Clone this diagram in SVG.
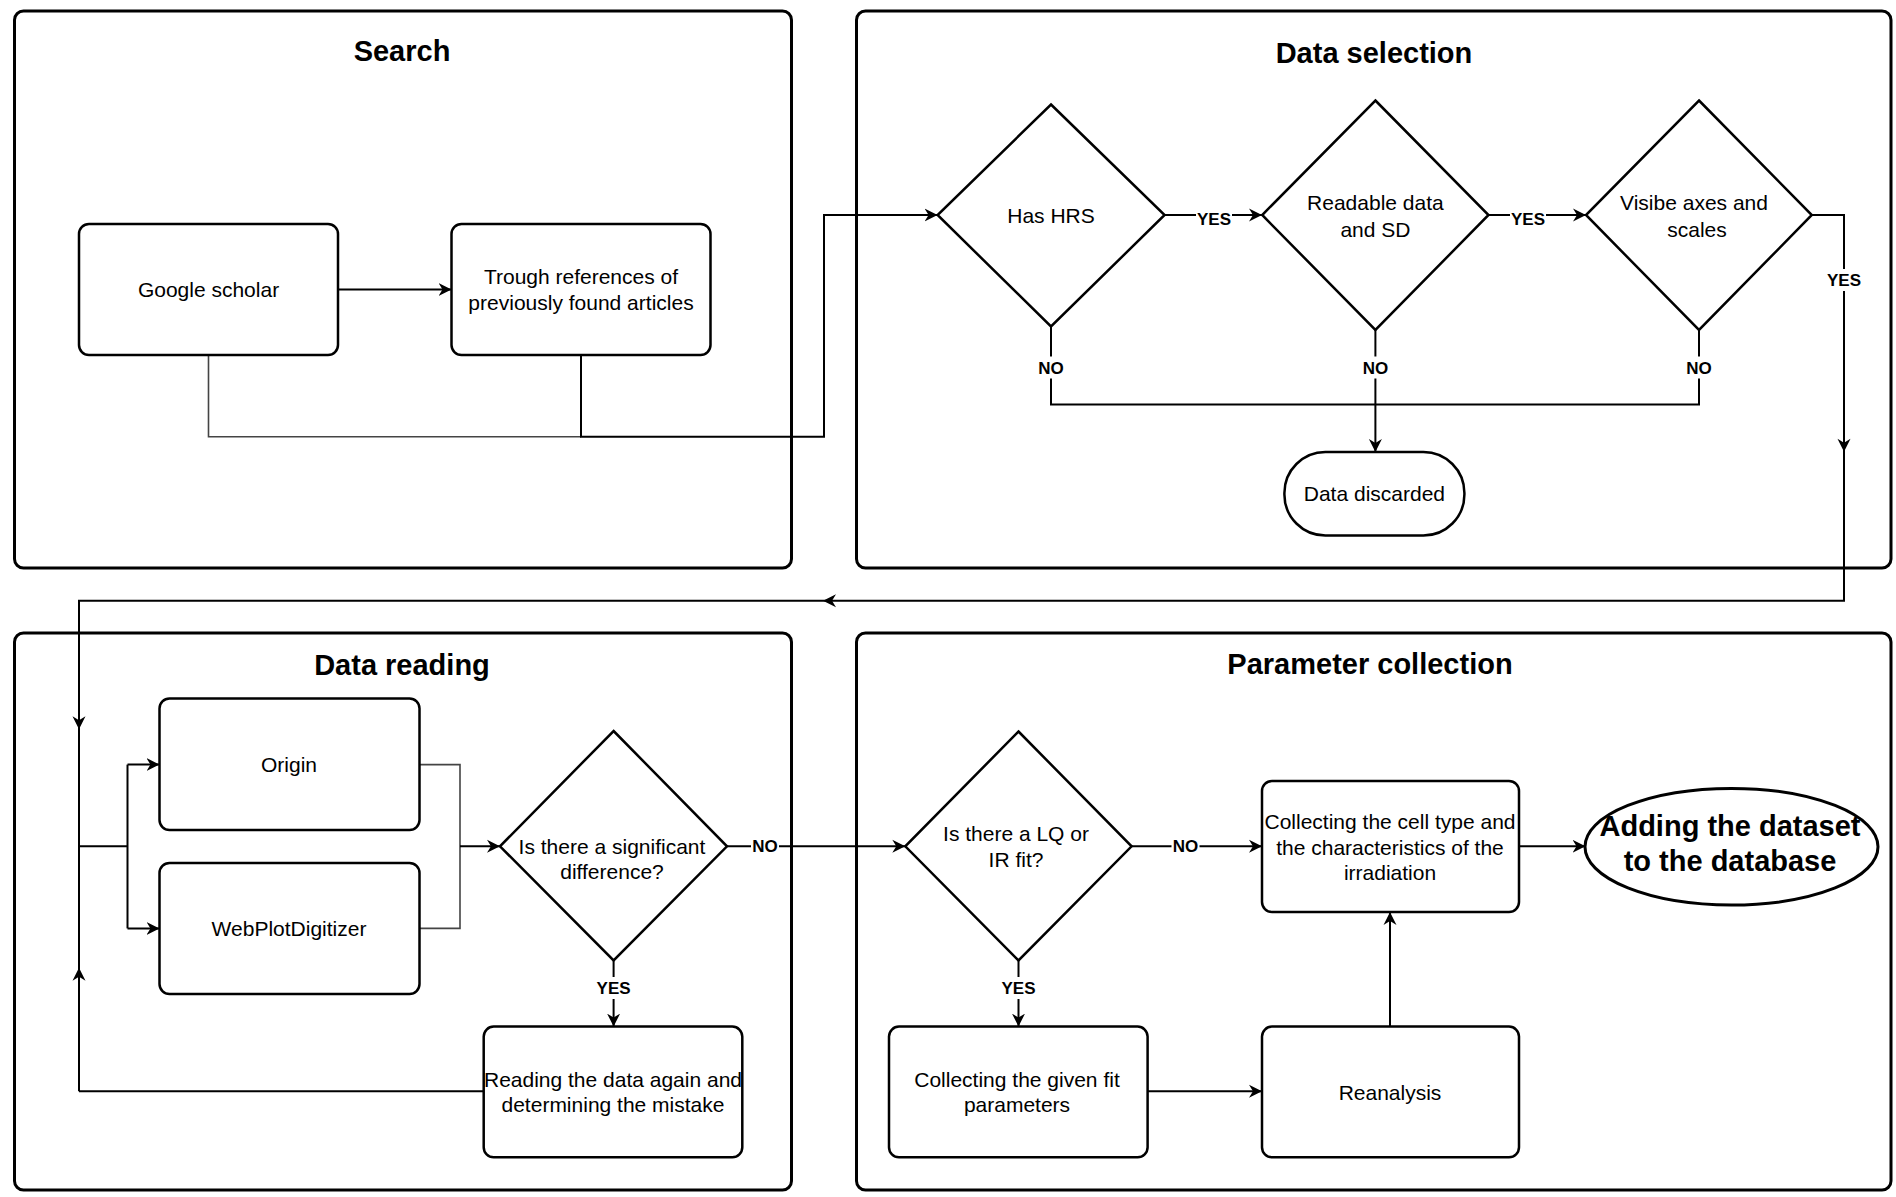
<svg xmlns="http://www.w3.org/2000/svg" xmlns:xlink="http://www.w3.org/1999/xlink" width="1896" height="1197" viewBox="0 0 1896 1197">
<style>
.panel{fill:#fff;stroke:#000;stroke-width:3}
.node{fill:#fff;stroke:#000;stroke-width:2.5}
.t{font-family:"Liberation Sans",Arial,sans-serif;font-size:21px;fill:#000;text-anchor:middle}
.title{font-family:"Liberation Sans",Arial,sans-serif;font-size:29px;font-weight:bold;fill:#000;text-anchor:middle}
.big{font-family:"Liberation Sans",Arial,sans-serif;font-size:29px;font-weight:bold;fill:#000;text-anchor:middle}
.lbl{font-family:"Liberation Sans",Arial,sans-serif;font-size:17px;font-weight:bold;fill:#000;text-anchor:middle}
.lblbg{fill:#fff;stroke:none}
.c{fill:none;stroke:#000;stroke-width:2}
.cg{fill:none;stroke:#444;stroke-width:1.6}
.ah{fill:#000;stroke:none}
</style>
<defs>
<marker id="arr" markerUnits="userSpaceOnUse" markerWidth="14" markerHeight="14" viewBox="0 0 14 14" refX="13" refY="7" orient="auto">
<path d="M0,0.5 L13,7 L0,13.5 L4,7 Z" fill="#000"/>
</marker>
<path id="ahead" d="M0,0 L-13,-6.5 L-9,0 L-13,6.5 Z"/>
</defs>
<rect width="1896" height="1197" fill="#fff"/>

<g id="panel-search">
<rect class="panel" x="14.5" y="11" width="777" height="557" rx="9"/>
<text class="title" x="402" y="61">Search</text>
</g>
<g id="panel-selection">
<rect class="panel" x="856.5" y="11" width="1034.5" height="557" rx="9"/>
<text class="title" x="1374" y="63">Data selection</text>
</g>
<g id="panel-reading">
<rect class="panel" x="14.5" y="633" width="777" height="557" rx="9"/>
<text class="title" x="402" y="675">Data reading</text>
</g>
<g id="panel-parameter">
<rect class="panel" x="856.5" y="633" width="1034.5" height="557" rx="9"/>
<text class="title" x="1370" y="674">Parameter collection</text>
</g>

<g id="connectors">
<path class="cg" d="M208.5,355 V436.7 H581"/>
<path class="c" d="M338,289.5 H451.5" marker-end="url(#arr)"/>
<path class="c" d="M581,355 V436.7 H824 V215 H937.6" marker-end="url(#arr)"/>
<path class="c" d="M1164.6,215 H1262" marker-end="url(#arr)"/>
<path class="c" d="M1488.5,215 H1586" marker-end="url(#arr)"/>
<path class="c" d="M1812,215 H1844 V600.7 H79 V1091.3"/>
<path class="c" d="M1051,326.5 V404.4 H1699 V330"/>
<path class="c" d="M1375.4,330 V452" marker-end="url(#arr)"/>
<path class="c" d="M79,846.3 H127.5"/>
<path class="c" d="M127.5,764.6 V928.4"/>
<path class="c" d="M127.5,764.6 H159.5" marker-end="url(#arr)"/>
<path class="c" d="M127.5,928.4 H159.5" marker-end="url(#arr)"/>
<path class="cg" d="M419.5,764.6 H460 V928.4 H419.5"/>
<path class="c" d="M460,846.3 H500" marker-end="url(#arr)"/>
<path class="c" d="M727,846.3 H905.3" marker-end="url(#arr)"/>
<path class="c" d="M613.6,960.5 V1026.6" marker-end="url(#arr)"/>
<path class="c" d="M483.7,1091.3 H79"/>
<path class="c" d="M1131.6,846.3 H1262" marker-end="url(#arr)"/>
<path class="c" d="M1018.5,960.5 V1026.6" marker-end="url(#arr)"/>
<path class="c" d="M1147.7,1091.3 H1262" marker-end="url(#arr)"/>
<path class="c" d="M1390,1026.6 V912" marker-end="url(#arr)"/>
<path class="c" d="M1519,846.3 H1585.5" marker-end="url(#arr)"/>
<use class="ah" xlink:href="#ahead" transform="translate(1844,451.7) rotate(90)"/>
<use class="ah" xlink:href="#ahead" transform="translate(823,600.7) rotate(180)"/>
<use class="ah" xlink:href="#ahead" transform="translate(79,729.3) rotate(90)"/>
<use class="ah" xlink:href="#ahead" transform="translate(79,967.7) rotate(-90)"/>
<rect class="lblbg" x="1196" y="208" width="36" height="22"/>
<text class="lbl" x="1214" y="225">YES</text>
<rect class="lblbg" x="1510" y="208" width="36" height="22"/>
<text class="lbl" x="1528" y="225">YES</text>
<rect class="lblbg" x="1826" y="269" width="36" height="22"/>
<text class="lbl" x="1844" y="286">YES</text>
<rect class="lblbg" x="1037" y="356.5" width="28" height="22"/>
<text class="lbl" x="1051" y="373.5">NO</text>
<rect class="lblbg" x="1361.4" y="356.5" width="28" height="22"/>
<text class="lbl" x="1375.4" y="373.5">NO</text>
<rect class="lblbg" x="1685" y="356.5" width="28" height="22"/>
<text class="lbl" x="1699" y="373.5">NO</text>
<rect class="lblbg" x="751" y="835" width="28" height="22"/>
<text class="lbl" x="765" y="852">NO</text>
<rect class="lblbg" x="595.6" y="977" width="36" height="22"/>
<text class="lbl" x="613.6" y="994">YES</text>
<rect class="lblbg" x="1171.5" y="835" width="28" height="22"/>
<text class="lbl" x="1185.5" y="852">NO</text>
<rect class="lblbg" x="1000.5" y="977" width="36" height="22"/>
<text class="lbl" x="1018.5" y="994">YES</text>
</g>

<g id="node-google">
<rect class="node" x="79" y="224" width="259" height="131" rx="10"/>
<text class="t" x="208.5" y="297">Google scholar</text>
</g>
<g id="node-trough">
<rect class="node" x="451.5" y="224" width="259" height="131" rx="10"/>
<text class="t" x="581" y="284">Trough references of</text>
<text class="t" x="581" y="310">previously found articles</text>
</g>
<g id="node-hrs">
<polygon class="node" points="1051,104.5 1164.6,215 1051,326.5 937.6,215"/>
<text class="t" x="1051" y="222.5">Has HRS</text>
</g>
<g id="node-readable">
<polygon class="node" points="1375.4,100.5 1488.5,215 1375.4,330 1262.2,215"/>
<text class="t" x="1375.4" y="210">Readable data</text>
<text class="t" x="1375.4" y="237">and SD</text>
</g>
<g id="node-visible">
<polygon class="node" points="1699,100.5 1811.8,215 1699,330 1586,215"/>
<text class="t" x="1694" y="210">Visibe axes and</text>
<text class="t" x="1697" y="237">scales</text>
</g>
<g id="node-discarded">
<rect class="node" x="1284.4" y="452" width="180" height="83.5" rx="41"/>
<text class="t" x="1374.4" y="501">Data discarded</text>
</g>
<g id="node-origin">
<rect class="node" x="159.5" y="698.5" width="260" height="131.5" rx="10"/>
<text class="t" x="289" y="771.5">Origin</text>
</g>
<g id="node-webplot">
<rect class="node" x="159.5" y="863" width="260" height="131" rx="10"/>
<text class="t" x="289" y="936">WebPlotDigitizer</text>
</g>
<g id="node-sigdiff">
<polygon class="node" points="613.6,731 727,846.3 613.6,960.5 500,846.3"/>
<text class="t" x="612" y="854">Is there a significant</text>
<text class="t" x="612" y="879">difference?</text>
</g>
<g id="node-reread">
<rect class="node" x="483.7" y="1026.6" width="258.6" height="130.7" rx="10"/>
<text class="t" x="613" y="1086.7">Reading the data again and</text>
<text class="t" x="613" y="1111.5">determining the mistake</text>
</g>
<g id="node-lqfit">
<polygon class="node" points="1018.5,731.5 1131.6,846.3 1018.5,960.5 905.3,846.3"/>
<text class="t" x="1016" y="841">Is there a LQ or</text>
<text class="t" x="1016" y="866.7">IR fit?</text>
</g>
<g id="node-celltype">
<rect class="node" x="1262" y="781" width="257" height="131" rx="10"/>
<text class="t" x="1390" y="829">Collecting the cell type and</text>
<text class="t" x="1390" y="854.5">the characteristics of the</text>
<text class="t" x="1390" y="879.5">irradiation</text>
</g>
<g id="node-adding">
<ellipse class="node" cx="1731.5" cy="846.7" rx="146.5" ry="58.3" style="stroke-width:3"/>
<text class="big" x="1730" y="836">Adding the dataset</text>
<text class="big" x="1730" y="871">to the database</text>
</g>
<g id="node-givenfit">
<rect class="node" x="889" y="1026.6" width="258.6" height="130.7" rx="10"/>
<text class="t" x="1017" y="1086.7">Collecting the given fit</text>
<text class="t" x="1017" y="1111.5">parameters</text>
</g>
<g id="node-reanalysis">
<rect class="node" x="1262" y="1026.6" width="257" height="130.7" rx="10"/>
<text class="t" x="1390" y="1099.5">Reanalysis</text>
</g>
</svg>
